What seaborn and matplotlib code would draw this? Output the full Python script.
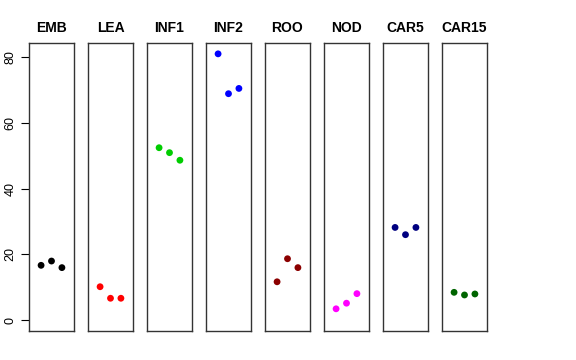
import matplotlib
matplotlib.use("Agg")
import matplotlib.pyplot as plt
import seaborn as sns
import pandas as pd

tissues = ["EMB", "LEA", "INF1", "INF2", "ROO", "NOD", "CAR5", "CAR15"]
colors = ["#000000", "#FF0000", "#00CD00", "#0000FF", "#8B0000", "#FF00FF", "#000080", "#006400"]
rep1 = [16.7, 10.2, 52.4, 80.9, 11.7, 3.5, 28.2, 8.5]
rep2 = [18.0, 6.7, 50.9, 68.8, 18.7, 5.2, 26.0, 7.7]
rep3 = [16.0, 6.7, 48.6, 70.4, 16.0, 8.1, 28.2, 8.0]
yticks = [0, 20, 40, 60, 80]

sns.set_style("white")
plt.rcParams['font.family'] = ['Liberation Sans', 'DejaVu Sans']
plt.rcParams['text.color'] = 'black'
plt.rcParams['ytick.color'] = 'black'
plt.rcParams['ytick.labelcolor'] = 'black'
plt.rcParams['axes.titlecolor'] = 'black'

fig = plt.figure(figsize=(5.76, 3.6), dpi=100)
W, H = 576, 360
left0, step, pw = 29.0, 59.0, 45.0
top, bot = 43.3, 331.0

for i, t in enumerate(tissues):
    x0 = left0 + i * step
    ax = fig.add_axes([x0 / W, 1 - bot / H, pw / W, (bot - top) / H])
    df = pd.DataFrame({"x": [1, 2, 3], "y": [rep1[i], rep2[i], rep3[i]]})
    sns.scatterplot(data=df, x="x", y="y", ax=ax, color=colors[i], s=24,
                    edgecolor="none", linewidth=0, legend=False)
    ax.set_xlim(-0.16, 4.16)
    ax.set_ylim(-3.24, 84.1)
    ax.set_xticks([])
    ax.set_xlabel("")
    ax.set_ylabel("")
    for sp in ax.spines.values():
        sp.set_visible(True)
        sp.set_color("#333333")
        sp.set_linewidth(1.0)
    ax.set_title(t, fontsize=10, fontweight="bold", pad=8, color="black")
    if i == 0:
        ax.set_yticks(yticks)
        ax.set_yticklabels([str(v) for v in yticks], rotation=90, va="center", fontsize=9, color="black")
        ax.tick_params(axis="y", length=6, width=0.8, color="black", pad=3, left=True)
    else:
        ax.set_yticks([])

fig.savefig("out.png", dpi=100, facecolor="white")
